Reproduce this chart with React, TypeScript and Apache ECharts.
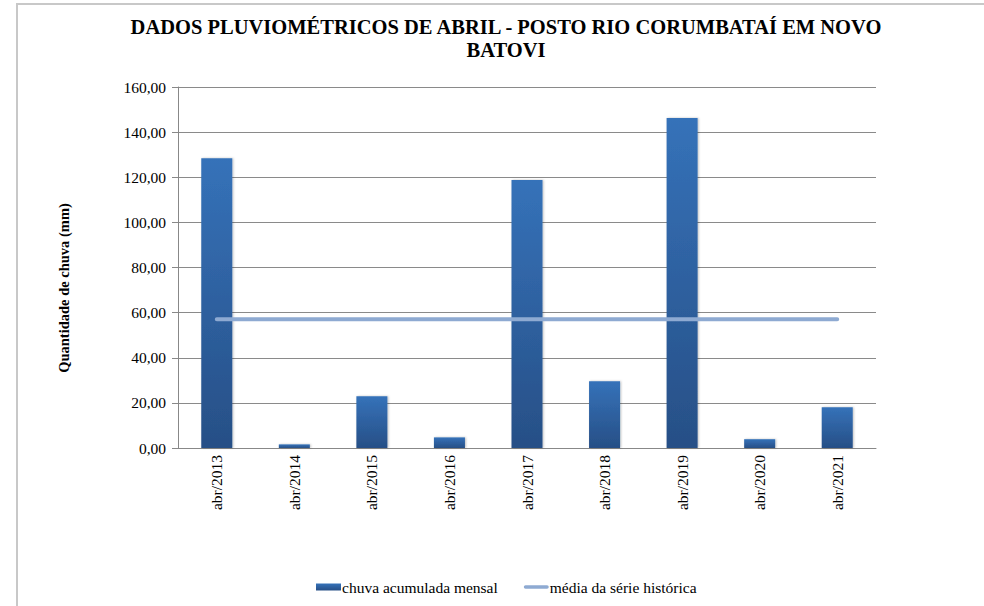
import React, { useEffect, useRef } from "react";
import * as echarts from "echarts";

const categories = [
  "abr/2013",
  "abr/2014",
  "abr/2015",
  "abr/2016",
  "abr/2017",
  "abr/2018",
  "abr/2019",
  "abr/2020",
  "abr/2021",
];
const rainfall = [128.4, 1.6, 22.9, 4.7, 118.8, 29.6, 146.3, 3.9, 18.1];
const historicalMean = [57.1, 57.1, 57.1, 57.1, 57.1, 57.1, 57.1, 57.1, 57.1];
const yMin = 0;
const yMax = 160;
const yInterval = 20;

const FONT = "Liberation Serif, Times New Roman, serif";

export default function App() {
  const ref = useRef<HTMLDivElement>(null);

  useEffect(() => {
    document.body.style.margin = "0";
    if (!ref.current) return;
    const chart = echarts.init(ref.current, null, { renderer: "svg" });
    chart.setOption({
      animation: false,
      backgroundColor: "#ffffff",
      textStyle: { fontFamily: FONT },
      title: {
        text: "DADOS PLUVIOMÉTRICOS DE ABRIL - POSTO RIO CORUMBATAÍ EM NOVO\nBATOVI",
        left: 501,
        top: 10,
        textAlign: "center",
        textStyle: {
          fontFamily: FONT,
          fontSize: 20.5,
          fontWeight: "bold",
          color: "#000000",
          lineHeight: 23,
        },
      },
      graphic: [
        {
          type: "rect",
          z: -10,
          shape: { x: 17, y: 4, width: 1100, height: 800 },
          style: { fill: "none", stroke: "#c8c8c8", lineWidth: 2 },
        },
        {
          type: "text",
          x: 64,
          y: 288,
          rotation: Math.PI / 2,
          style: {
            text: "Quantidade de chuva (mm)",
            fontFamily: FONT,
            fontSize: 14.5,
            fontWeight: "bold",
            fill: "#000000",
            align: "center",
            verticalAlign: "middle",
          },
        },
      ],
      legend: {
        bottom: 6,
        left: 311,
        itemWidth: 25,
        itemHeight: 7,
        itemGap: 26,
        textStyle: { fontFamily: FONT, fontSize: 15.5, color: "#000000", padding: [0, 0, 0, -4] },
        data: [
          { name: "chuva acumulada mensal", icon: "rect" },
          {
            name: "média da série histórica",
            icon: "path://M2,0 L26,0 A2,2 0 0 1 26,4 L2,4 A2,2 0 0 1 2,0 Z",
          },
        ],
      },
      grid: { left: 178, right: 108, top: 87, bottom: 158, containLabel: false },
      xAxis: {
        type: "category",
        data: categories,
        axisLine: { show: true, lineStyle: { color: "#888888", width: 1 } },
        axisTick: { show: false },
        axisLabel: {
          rotate: 90,
          margin: 7,
          fontFamily: FONT,
          fontSize: 15.5,
          color: "#000000",
        },
      },
      yAxis: {
        type: "value",
        min: yMin,
        max: yMax,
        interval: yInterval,
        axisLine: { show: true, lineStyle: { color: "#888888", width: 1 } },
        axisTick: { show: true, length: 6, lineStyle: { color: "#888888" } },
        splitLine: { show: true, lineStyle: { color: "#8a8a8a", width: 1 } },
        axisLabel: {
          margin: 12,
          fontFamily: FONT,
          fontSize: 15.5,
          color: "#000000",
          formatter: (v: number) => v.toFixed(2).replace(".", ","),
        },
      },
      series: [
        {
          name: "chuva acumulada mensal",
          type: "bar",
          data: rainfall,
          barWidth: "40%",
          itemStyle: {
            color: new echarts.graphic.LinearGradient(0, 0, 0, 1, [
              { offset: 0, color: "#3572b9" },
              { offset: 1, color: "#274f86" },
            ]),
            shadowColor: "rgba(0,0,0,0.25)",
            shadowBlur: 2,
            shadowOffsetX: 1,
          },
          z: 2,
        },
        {
          name: "média da série histórica",
          type: "line",
          data: historicalMean,
          symbol: "none",
          lineStyle: { color: "#8eaad2", width: 4, cap: "round" },
          itemStyle: { color: "#8eaad2" },
          z: 3,
        },
      ],
    });
    return () => chart.dispose();
  }, []);

  return <div ref={ref} style={{ width: 984, height: 606 }} />;
}
